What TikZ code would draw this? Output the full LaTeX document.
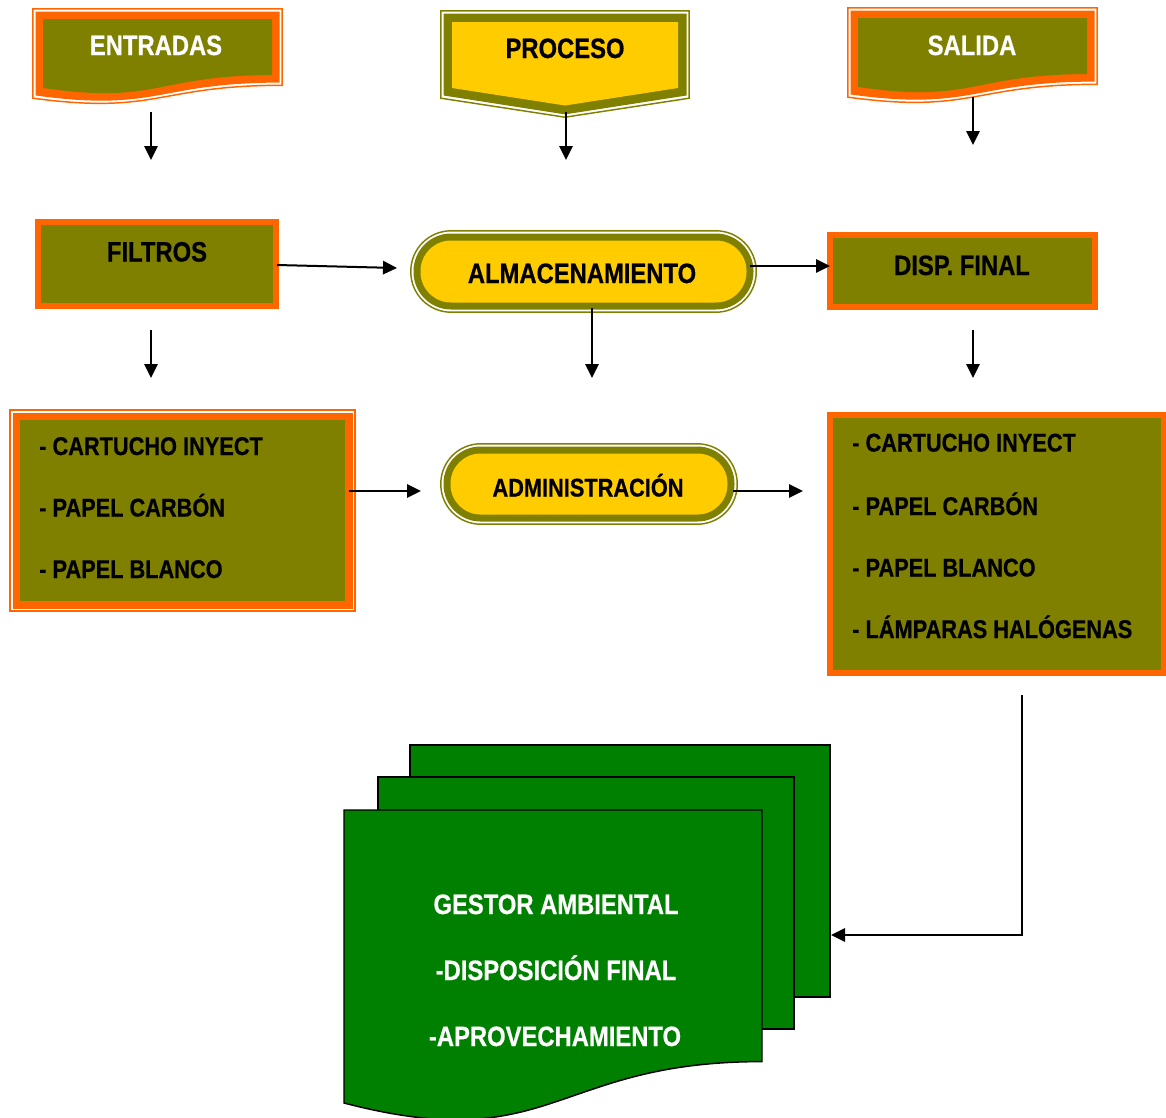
\documentclass[tikz,border=0pt]{standalone}
\usepackage{fontspec}
\setmainfont{Liberation Sans}[FakeStretch=0.85, BoldFeatures={FakeBold=0.6}]
\usetikzlibrary{arrows.meta}

\definecolor{olivebox}{HTML}{808000}
\definecolor{orangeband}{HTML}{FF6600}
\definecolor{goldfill}{HTML}{FFCC00}
\definecolor{docgreen}{HTML}{008000}

% document outline with a wavy lower edge: left, top, right, height, inset
\newcommand{\wavepath}[6]{%
  \path[#6] (#1+#5,#2+#5) -- (#3-#5,#2+#5) -- (#3-#5,#2+0.802*#4-#5)
    .. controls ({(#1+#3)/2},#2+0.802*#4-#5) and ({(#1+#3)/2},#2+1.1075*#4-#5)
    .. (#1+#5,#2+0.934*#4-#5) -- cycle;}

% thin line, white gap, thick band, then the fill
\newcommand{\wavedoc}[6]{%
  \wavepath{#1}{#2}{#3}{#4}{0.8}{draw=#5, line width=1.1pt, fill=white}
  \wavepath{#1}{#2}{#3}{#4}{3.5}{fill=#5}
  \wavepath{#1}{#2}{#3}{#4}{11}{fill=#6}}

% pill shape with the same thin/thick frame: left, top, right, bottom
\newcommand{\pill}[4]{%
  \pgfmathsetmacro\ra{((#4-#2)/2-0.8)*0.75-0.3}
  \pgfmathsetmacro\rb{((#4-#2)/2-3.5)*0.75-0.3}
  \pgfmathsetmacro\rc{((#4-#2)/2-10.5)*0.75-0.3}
  \path[draw=olivebox, line width=1.1pt, fill=white, rounded corners=\ra pt]
    (#1+0.8,#2+0.8) rectangle (#3-0.8,#4-0.8);
  \path[fill=olivebox, rounded corners=\rb pt]
    (#1+3.5,#2+3.5) rectangle (#3-3.5,#4-3.5);
  \path[fill=goldfill, rounded corners=\rc pt]
    (#1+10.5,#2+10.5) rectangle (#3-10.5,#4-10.5);}

% rectangle with the thin/thick orange frame
\newcommand{\framedrect}[4]{%
  \path[draw=orangeband, line width=1.1pt, fill=white] (#1+0.8,#2+0.8) rectangle (#3-0.8,#4-0.8);
  \path[fill=orangeband] (#1+3.5,#2+3.5) rectangle (#3-3.5,#4-3.5);
  \path[fill=olivebox] (#1+11,#2+11) rectangle (#3-11,#4-11);}

% rectangle with a single thick orange frame
\newcommand{\bandrect}[4]{%
  \path[fill=orangeband] (#1,#2) rectangle (#3,#4);
  \path[fill=olivebox] (#1+6,#2+6) rectangle (#3-6,#4-6);}

\tikzset{
  headtxt/.style={inner sep=0pt, anchor=base, font=\fontsize{21}{25}\selectfont\bfseries},
  listtxt/.style={inner sep=0pt, anchor=base west, text=black, font=\fontsize{19.2}{23}\selectfont\bfseries},
  midtxt/.style={inner sep=0pt, anchor=base, text=black, font=\fontsize{19.2}{23}\selectfont\bfseries},
  flow/.style={line width=1.5pt, -{Triangle[length=10.5pt,width=10pt]}},
  sheet/.style={draw=black, line width=1.1pt, fill=docgreen}
}

\begin{document}
\begin{tikzpicture}[x=0.75pt,y=-0.75pt]
\useasboundingbox (0,0) rectangle (1166,1117);

% ---------- top row ----------
\wavedoc{32}{8}{283}{97.4}{orangeband}{olivebox}
\node[headtxt, text=white] (entradas) at (156,55) {ENTRADAS};

\path[draw=olivebox, line width=1.1pt, fill=white]
  (440.8,10.8) -- (689.2,10.8) -- (689.2,98.2) -- (565,117.2) -- (440.8,98.2) -- cycle;
\path[fill=olivebox]
  (443.5,13.5) -- (686.5,13.5) -- (686.5,95.5) -- (565,114.4) -- (443.5,95.5) -- cycle;
\path[fill=goldfill]
  (452,22) -- (678,22) -- (678,88) -- (565,105.5) -- (452,88) -- cycle;
\node[headtxt, text=black] (proceso) at (565,58) {PROCESO};

\wavedoc{847}{7}{1098}{97.4}{orangeband}{olivebox}
\node[headtxt, text=white] (salida) at (972,55) {SALIDA};

% ---------- middle row ----------
\bandrect{35}{219}{279}{309}
\node[headtxt, text=black] (filtros) at (157,261.5) {FILTROS};

\pill{410}{230}{757}{313}
\node[headtxt, text=black] (almacen) at (582,283) {ALMACENAMIENTO};

\bandrect{827}{232}{1098}{310}
\node[headtxt, text=black] (dispfinal) at (962,275) {DISP. FINAL};

% ---------- lists ----------
\framedrect{9}{409}{356}{612}
\node[listtxt] (lcart) at (39,455) {- CARTUCHO INYECT};
\node[listtxt] (lcarb) at (39,516.5) {- PAPEL CARBÓN};
\node[listtxt] (lblan) at (39,578) {- PAPEL BLANCO};

\pill{440}{443}{738}{525}
\node[midtxt] (admin) at (588,496.5) {ADMINISTRACIÓN};

\bandrect{827}{412}{1167}{676}
\node[listtxt] (rcart) at (852,451.5) {- CARTUCHO INYECT};
\node[listtxt] (rcarb) at (852,515) {- PAPEL CARBÓN};
\node[listtxt] (rblan) at (852,576.5) {- PAPEL BLANCO};
\node[listtxt] (rlamp) at (852,638) {- LÁMPARAS HALÓGENAS};

% ---------- stacked green sheets ----------
\path[sheet] (410,745) rectangle (830,997);
\path[sheet] (378,777) rectangle (794,1029);
\wavepath{344}{810}{762}{313.7}{0}{sheet}
\node[headtxt, text=white] (gestor) at (556,914) {GESTOR AMBIENTAL};
\node[headtxt, text=white] (dispos) at (556,980) {-DISPOSICIÓN FINAL};
\node[headtxt, text=white] (aprov) at (555,1046) {-APROVECHAMIENTO};

% ---------- connector ends ----------
\coordinate (entradasOut) at (151,112);
\coordinate (entradasIn)  at (151,160);
\coordinate (procesoOut)  at (566,112);
\coordinate (procesoIn)   at (566,160);
\coordinate (salidaOut)   at (973,97);
\coordinate (salidaIn)    at (973,145);
\coordinate (filtrosE)    at (277,265);
\coordinate (almacenW)    at (397,268);
\coordinate (almacenE)    at (750,266);
\coordinate (dispfinalW)  at (830,266);
\coordinate (filtrosS)    at (151,330);
\coordinate (filtrosDown) at (151,378);
\coordinate (almacenS)    at (592,308);
\coordinate (almacenDown) at (592,378);
\coordinate (dispfinalS)  at (973,330);
\coordinate (dispfinalDown) at (973,378);
\coordinate (leftlistE)   at (349,491);
\coordinate (adminW)      at (421,491);
\coordinate (adminE)      at (733,491);
\coordinate (rightlistW)  at (803,491);
\coordinate (rightlistS)  at (1022,695);
\coordinate (sheetsE)     at (831,935);

% ---------- connectors ----------
\draw[flow] (entradasOut) -- (entradasIn);
\draw[flow] (procesoOut) -- (procesoIn);
\draw[flow] (salidaOut) -- (salidaIn);
\draw[flow] (filtrosE) -- (almacenW);
\draw[flow] (almacenE) -- (dispfinalW);
\draw[flow] (filtrosS) -- (filtrosDown);
\draw[flow] (almacenS) -- (almacenDown);
\draw[flow] (dispfinalS) -- (dispfinalDown);
\draw[flow] (leftlistE) -- (adminW);
\draw[flow] (adminE) -- (rightlistW);
\draw[flow] (rightlistS) |- (sheetsE);
\end{tikzpicture}
\end{document}
